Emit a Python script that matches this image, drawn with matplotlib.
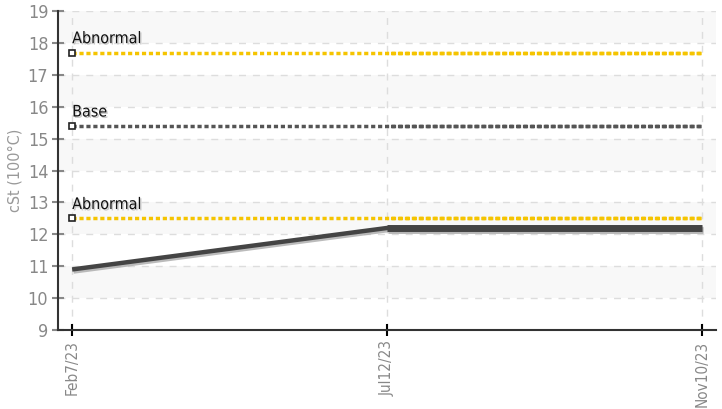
import matplotlib
matplotlib.use("Agg")
import matplotlib.pyplot as plt
import matplotlib.patheffects as pe

plt.rcParams['font.family'] = ['DejaVu Sans']
plt.rcParams['font.stretch'] = 'condensed'

dates = ["Feb7/23", "Jul12/23", "Nov10/23"]
cst = [10.9, 12.2, 12.2]
abnormal_high = 17.7
base = 15.4
abnormal_low = 12.5

x = list(range(len(dates)))

fig = plt.figure(figsize=(7.22, 4.09), dpi=100)
ax = fig.add_axes([0.0803, 0.193, 0.9114, 0.780])

ax.set_xlim(-0.045, 2.045)
ax.set_ylim(9, 19)

# alternating bands
for lo in range(10, 19, 2):
    ax.axhspan(lo, lo + 1, color="#f8f8f8", zorder=0, lw=0)

ax.grid(True, color="#dddddd", linestyle=(0, (5, 5)), linewidth=1, zorder=1)

# limit lines
for val, col, name in [(abnormal_high, "#f5c400", "Abnormal"),
                       (base, "#555555", "Base"),
                       (abnormal_low, "#f5c400", "Abnormal")]:
    ax.plot([x[0], x[-1]], [val, val], color=col, lw=2.5,
            linestyle=(0, (1.2, 0.8)), zorder=3)
    ax.plot([x[1], x[-1]], [val, val], color=col, lw=2.5,
            linestyle=(1.0, (1.2, 0.8)), zorder=3)
    ax.plot([x[0]], [val], marker="s", ms=5, mfc="white", mec="#222222",
            mew=1.2, zorder=5, clip_on=False)
    ax.text(x[0], val + 0.2, name, fontsize=11.5, color="#111111", zorder=6,
            ha="left", va="bottom",
            path_effects=[pe.withSimplePatchShadow(offset=(1, -1),
                                                   shadow_rgbFace="#bbbbbb", alpha=0.8)])

# data line
shadow = [pe.SimpleLineShadow(offset=(1, -1.5), shadow_color="#aaaaaa", alpha=0.8),
          pe.Normal()]
ax.plot(x, cst, color="#444444", lw=3.2, zorder=4, solid_capstyle="butt",
        path_effects=shadow)
ax.plot(x[1:], cst[1:], color="#444444", lw=5, zorder=4, solid_capstyle="butt",
        path_effects=shadow)

ax.set_xticks(x)
ax.set_xticklabels(dates, rotation=90, color="#888888", fontsize=11)
ax.set_yticks(range(9, 20))
ax.tick_params(axis="y", colors="#888888", labelsize=13, direction="inout",
               length=8, width=1.5, pad=3)
ax.tick_params(axis="x", direction="inout", length=8, width=1.5)
for t in ax.get_yticklines() + ax.get_xticklines():
    t.set_color("#222222")

ax.set_ylabel("cSt (100°C)", color="#999999", fontsize=11.5, labelpad=4)

for s in ["top", "right"]:
    ax.spines[s].set_visible(False)
for s in ["left", "bottom"]:
    ax.spines[s].set_color("#333333")
    ax.spines[s].set_linewidth(1.5)

fig.savefig("out.png", dpi=100)
